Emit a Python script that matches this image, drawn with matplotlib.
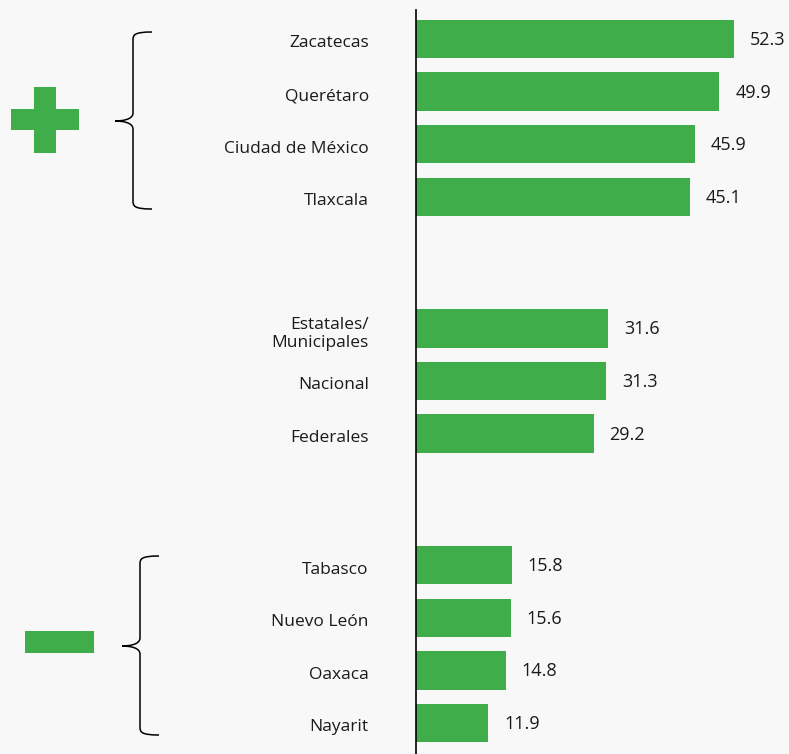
import numpy as np
import matplotlib.pyplot as plt
import matplotlib.transforms as mtransforms
from matplotlib.path import Path
from matplotlib.patches import PathPatch, Rectangle

plt.rcParams['font.family'] = ['Open Sans', 'DejaVu Sans']

labels = ["Zacatecas", "Querétaro", "Ciudad de México", "Tlaxcala",
          "Estatales/\nMunicipales", "Nacional", "Federales",
          "Tabasco", "Nuevo León", "Oaxaca", "Nayarit"]
values = [52.3, 49.9, 45.9, 45.1, 31.6, 31.3, 29.2, 15.8, 15.6, 14.8, 11.9]
rows = [0, 1, 2, 3, 5.5, 6.5, 7.5, 10, 11, 12, 13]

green = "#3fad4a"
bg = "#f8f8f8"
txt = "#1a1a1a"

W, H = 789, 754
fig = plt.figure(figsize=(W / 100, H / 100), dpi=100, facecolor=bg)

ax = fig.add_axes([416 / W, 0, 1 - 416 / W, 1 - 10 / H])
ax.set_facecolor(bg)
ax.barh(rows, values, height=0.73, color=green, zorder=2)
ax.set_xlim(0, (W - 416) / 6.08)
ax.set_ylim(13.59, -0.55)
for s in ["top", "right", "bottom"]:
    ax.spines[s].set_visible(False)
ax.spines["left"].set_linewidth(1.2)
ax.spines["left"].set_color("black")
ax.set_xticks([])
ax.set_yticks(rows, labels)
ax.tick_params(axis="y", length=0, pad=34, labelsize=12.5, labelcolor=txt)

# nudge the category labels a couple of pixels down, like the original
shift = mtransforms.ScaledTranslation(0, -2.5 / 100, fig.dpi_scale_trans)
for lab in ax.get_yticklabels():
    lab.set_transform(lab.get_transform() + shift)

for r, v in zip(rows, values):
    ax.text(v + 2.6, r + 0.02, f"{v:.1f}", va="center", ha="left",
            fontsize=13, color=txt)

# decorations (plus, minus, braces) in pixel coords
deco = fig.add_axes([0, 0, 1, 1], facecolor="none")
deco.set_xlim(0, W)
deco.set_ylim(H, 0)
deco.axis("off")

deco.add_patch(Rectangle((11, 109), 68, 21, color=green, lw=0))
deco.add_patch(Rectangle((34, 87), 22, 66, color=green, lw=0))
deco.add_patch(Rectangle((25, 631), 69, 22, color=green, lw=0))


def brace(x_end, x_spine, x_tip, y_top, y_tip, y_bot):
    verts = [(x_end, y_top), (x_spine + 1, y_top), (x_spine, y_top + 3), (x_spine, y_top + 8),
             (x_spine, y_tip - 8),
             (x_spine, y_tip - 1), (x_tip + 6, y_tip), (x_tip, y_tip),
             (x_tip + 6, y_tip), (x_spine, y_tip + 1), (x_spine, y_tip + 8),
             (x_spine, y_bot - 8),
             (x_spine, y_bot - 3), (x_spine + 1, y_bot), (x_end, y_bot)]
    codes = [Path.MOVETO, Path.CURVE4, Path.CURVE4, Path.CURVE4,
             Path.LINETO,
             Path.CURVE4, Path.CURVE4, Path.CURVE4,
             Path.CURVE4, Path.CURVE4, Path.CURVE4,
             Path.LINETO,
             Path.CURVE4, Path.CURVE4, Path.CURVE4]
    deco.add_patch(PathPatch(Path(verts, codes), fill=False, lw=1.1, ec="black"))


brace(152, 133, 115, 32, 121, 209)
brace(159, 140, 122, 556, 646, 735)

fig.savefig("out.png", dpi=100, facecolor=bg)
